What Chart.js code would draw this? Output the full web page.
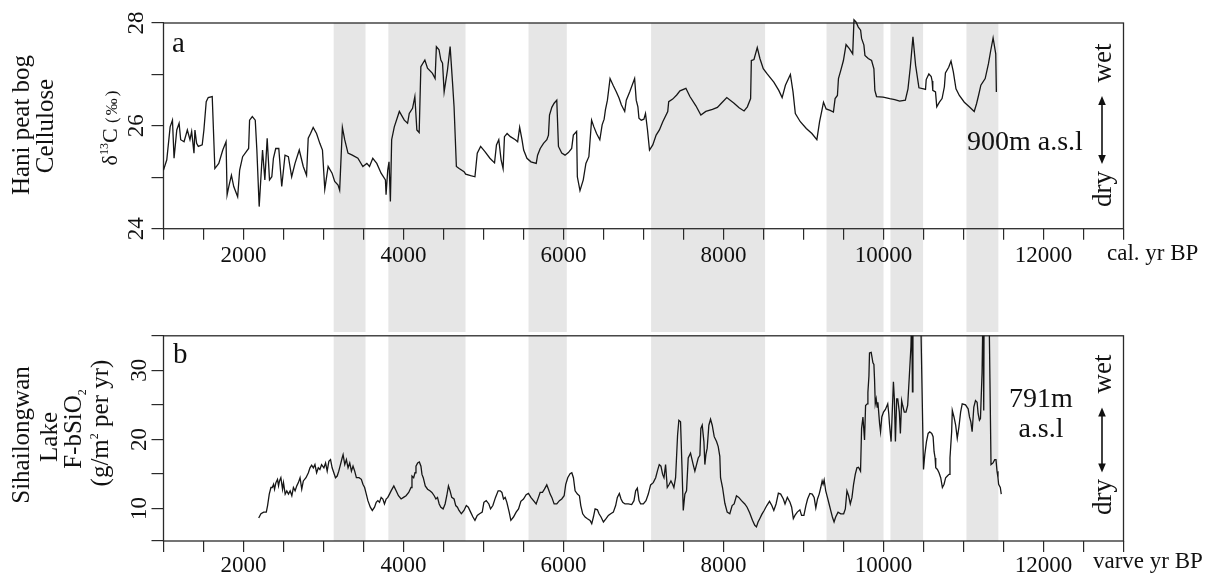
<!DOCTYPE html>
<html lang="en">
<head>
<meta charset="UTF-8">
<title>Hani peat bog δ13C / Sihailongwan Lake F-bSiO2</title>
<script src="https://cdn.jsdelivr.net/npm/chart.js"></script>
<style>
  html, body { margin: 0; padding: 0; background: #fff; }
  body { width: 1209px; height: 574px; position: relative; overflow: hidden;
         font-family: "Liberation Serif", "Times New Roman", serif; color: #111; }
  canvas { position: absolute; left: 0; }
  #chartA { top: 0; }
  #chartB { top: 322px; }
  .lbl { position: absolute; white-space: nowrap; line-height: 1; }
  .rot { position: absolute; white-space: nowrap; line-height: 27px;
         transform: translate(-50%, -50%) rotate(-90deg); }
  .up { position: relative; }
</style>
</head>
<body>
<canvas id="chartA" width="1209" height="332"></canvas>
<canvas id="chartB" width="1209" height="252"></canvas>

<!-- panel a texts -->
<div class="rot" style="left:19.6px;top:125px;font-size:25px">Hani peat bog</div>
<div class="rot" style="left:43.6px;top:126px;font-size:25px">Cellulose</div>
<div class="rot" style="left:110.6px;top:126.5px;font-size:22px">δ<span class="up" style="font-size:12px;top:-9px">13</span>C <span style="font-size:17px;letter-spacing:2px">(‰)</span></div>
<div class="lbl" style="left:172px;top:27.7px;font-size:29px">a</div>
<div class="lbl" style="left:967px;top:126.5px;font-size:28px">900m a.s.l</div>
<div class="rot" style="left:1102px;top:63px;font-size:27px">wet</div>
<div class="rot" style="left:1102px;top:188.5px;font-size:27px">dry</div>
<div class="lbl" style="left:1107px;top:240.7px;font-size:23px">cal. yr BP</div>

<!-- panel b texts -->
<div class="rot" style="left:19.6px;top:435px;font-size:25px">Sihailongwan</div>
<div class="rot" style="left:47.6px;top:436.5px;font-size:25px">Lake</div>
<div class="rot" style="left:74.6px;top:429px;font-size:25px">F-bSiO<span class="up" style="font-size:12px;top:5px">2</span></div>
<div class="rot" style="left:101.6px;top:422.5px;font-size:25px">(g/m<span class="up" style="font-size:12px;top:-10px">2</span> per yr)</div>
<div class="lbl" style="left:173px;top:338.7px;font-size:29px">b</div>
<div class="lbl" style="left:1041px;top:382.5px;font-size:28px;line-height:30px;text-align:center;transform:translateX(-50%)">791m<br>a.s.l</div>
<div class="rot" style="left:1102px;top:373.5px;font-size:27px">wet</div>
<div class="rot" style="left:1102px;top:496.5px;font-size:27px">dry</div>
<div class="lbl" style="left:1093px;top:548.7px;font-size:23px">varve yr BP</div>

<svg width="1209" height="574" style="position:absolute;left:0;top:0">
  <g stroke="#111" stroke-width="1.6" fill="#111">
    <line x1="1102" y1="103" x2="1102" y2="157"/>
    <path d="M1102 96 L1098.2 105 L1105.8 105 Z" stroke="none"/>
    <path d="M1102 164 L1098.2 155 L1105.8 155 Z" stroke="none"/>
    <line x1="1102" y1="414" x2="1102" y2="466"/>
    <path d="M1102 407.5 L1098.2 416.5 L1105.8 416.5 Z" stroke="none"/>
    <path d="M1102 472.5 L1098.2 463.5 L1105.8 463.5 Z" stroke="none"/>
  </g>
</svg>

<script>
// ---- data ----
// Hani peat bog cellulose d13C (cal. yr BP, permil)
const haniAge = [1000,1041,1083,1112,1132,1166,1195,1215,1257,1298,1331,1352,1381,1393,1414,1435,1484,1505,1534,1559,
  1609,1642,1691,1741,1782,1795,1816,1849,1878,1927,1952,1989,2035,2064,2076,2110,2147,2167,2196,2238,
  2267,2296,2325,2354,2374,2403,2441,2478,2519,2561,2602,2644,2697,2747,2788,2809,2838,2871,2913,2954,
  2987,3016,3058,3107,3140,3182,3202,3236,3265,3306,3360,3430,3492,3542,3575,3616,3666,3720,3774,3782,
  3803,3819,3836,3852,3885,3948,4010,4051,4072,4113,4142,4167,4196,4217,4267,4300,4362,4395,4411,4444,
  4467,4488,4508,4550,4583,4612,4632,4661,4695,4757,4777,4839,4893,4922,4964,5018,5080,5138,5162,5191,
  5220,5245,5262,5295,5336,5398,5427,5452,5481,5502,5543,5593,5659,5676,5709,5750,5792,5812,5825,5854,
  5883,5916,5937,5978,6019,6061,6102,6123,6164,6173,6206,6247,6280,6317,6351,6380,6413,6454,6483,6508,
  6524,6549,6582,6620,6661,6694,6723,6765,6785,6827,6889,6909,6930,6943,6972,7005,7025,7050,7075,7116,
  7158,7199,7241,7303,7315,7365,7415,7456,7530,7580,7655,7717,7779,7862,7924,7967,8041,8132,8195,8257,
  8298,8339,8348,8381,8422,8455,8497,8546,8629,8691,8733,8774,8836,8869,8898,8960,9035,9105,9167,9201,
  9230,9250,9283,9333,9374,9395,9424,9437,9466,9499,9532,9573,9615,9631,9656,9685,9714,9726,9755,9768,
  9809,9851,9880,9892,9913,9995,10078,10140,10202,10273,10306,10335,10368,10401,10443,10501,10525,10534,10567,10596,
  10608,10616,10650,10666,10699,10732,10761,10774,10815,10844,10873,10906,10948,11010,11072,11134,11163,11188,11217,11271,
  11312,11341,11370,11403,11411];
const haniD13C = [25.14,25.34,25.98,26.11,25.37,25.92,26.05,25.73,25.69,25.92,25.73,25.89,25.47,25.92,25.66,25.60,25.63,25.92,26.47,26.55,
  26.57,25.17,25.27,25.53,25.69,24.66,24.82,25.04,24.82,24.62,25.14,25.40,25.50,25.56,26.11,26.18,26.11,25.53,24.43,25.53,
  24.95,25.76,24.95,25.01,25.37,25.56,25.56,24.82,25.43,25.40,25.01,25.27,25.53,25.21,25.04,25.76,25.85,25.97,25.85,25.66,
  25.53,24.77,25.21,25.08,24.92,24.85,24.75,25.97,25.73,25.47,25.43,25.37,25.21,25.27,25.21,25.37,25.27,25.08,24.95,24.66,
  25.14,25.30,24.53,25.73,25.98,26.28,26.11,26.05,26.24,26.34,26.57,25.92,25.87,27.15,27.28,27.12,27.02,26.92,27.54,27.48,
  27.28,27.22,26.66,27.09,27.54,26.86,26.37,25.21,25.17,25.11,25.06,25.03,25.01,25.47,25.60,25.50,25.37,25.28,25.63,25.73,
  25.34,25.17,25.79,25.85,25.79,25.73,25.69,25.97,25.73,25.53,25.37,25.30,25.27,25.43,25.56,25.66,25.73,25.82,26.21,26.36,
  26.44,26.50,25.60,25.47,25.43,25.48,25.56,25.82,25.89,25.01,24.74,24.95,25.27,25.40,26.11,25.98,25.85,25.73,26.02,26.13,
  26.31,26.50,26.92,26.79,26.66,26.54,26.41,26.28,26.50,26.66,26.92,26.50,26.37,26.15,26.11,26.13,26.24,25.92,25.53,25.63,
  25.82,25.92,26.08,26.28,26.47,26.52,26.60,26.68,26.73,26.57,26.39,26.21,26.28,26.32,26.36,26.43,26.55,26.44,26.35,26.29,
  26.37,26.53,27.27,27.29,27.52,27.31,27.11,27.01,26.85,26.69,26.55,26.79,27.00,26.66,26.24,26.08,25.95,25.85,25.73,26.08,
  26.30,26.46,26.33,26.30,26.27,26.53,26.59,26.92,27.08,27.27,27.58,27.50,27.40,28.06,28.02,27.92,27.86,27.70,27.57,27.37,
  27.31,27.27,27.11,26.69,26.57,26.56,26.53,26.51,26.48,26.50,26.72,27.14,27.73,27.18,26.74,26.72,26.71,26.90,27.01,26.96,
  26.87,26.69,26.66,26.37,26.46,26.53,26.76,27.03,27.14,27.26,27.05,26.72,26.59,26.46,26.37,26.28,26.43,26.59,26.79,26.92,
  27.21,27.47,27.71,27.40,26.66];

// Sihailongwan Lake biogenic silica flux (varve yr BP, g/m2 per yr)
const sihaiAge = [2190,2218,2252,2285,2301,2322,2343,2359,2376,2388,2405,2425,2438,2450,2467,2488,2500,2521,2541,2562,
  2583,2604,2624,2645,2666,2686,2707,2728,2748,2781,2811,2831,2852,2873,2893,2914,2935,2955,2976,3005,
  3026,3046,3067,3088,3108,3129,3150,3171,3191,3212,3233,3245,3266,3286,3307,3328,3349,3369,3390,3411,
  3444,3473,3493,3514,3535,3555,3585,3610,3638,3659,3679,3700,3721,3742,3762,3783,3804,3825,3845,3879,
  3908,3937,3970,4000,4032,4065,4094,4106,4127,4144,4156,4177,4198,4218,4231,4247,4272,4301,4330,4355,
  4384,4405,4425,4446,4467,4495,4520,4541,4562,4582,4603,4632,4653,4674,4694,4723,4756,4785,4810,4839,
  4868,4893,4922,4951,4984,5005,5034,5067,5088,5117,5150,5183,5209,5230,5250,5271,5292,5321,5342,5375,
  5408,5438,5467,5500,5533,5562,5592,5625,5658,5687,5708,5737,5762,5791,5812,5833,5854,5883,5916,5949,
  5978,6008,6028,6053,6082,6104,6124,6145,6174,6199,6216,6240,6270,6299,6332,6353,6374,6395,6424,6444,
  6469,6499,6532,6561,6590,6623,6652,6673,6698,6719,6740,6769,6810,6852,6881,6902,6923,6944,6964,6998,
  7031,7060,7089,7122,7152,7176,7197,7218,7239,7256,7276,7297,7322,7343,7364,7380,7401,7426,7442,7463,
  7480,7497,7517,7538,7559,7588,7621,7642,7663,7684,7705,7717,7734,7755,7767,7780,7796,7817,7838,7859,
  7884,7913,7934,7954,7963,7988,8017,8046,8079,8108,8133,8162,8191,8225,8266,8295,8328,8362,8391,8412,
  8432,8453,8479,8508,8541,8575,8604,8629,8657,8686,8715,8748,8769,8798,8831,8852,8873,8893,8922,8955,
  8976,9005,9030,9051,9080,9109,9133,9154,9175,9196,9216,9233,9245,9258,9278,9299,9320,9340,9361,9382,
  9402,9432,9465,9502,9523,9543,9564,9585,9606,9626,9647,9668,9688,9713,9726,9743,9763,9776,9797,9805,
  9818,9825,9846,9868,9880,9888,9897,9909,9921,9930,9951,9963,9979,10000,10024,10053,10066,10074,10095,10107,
  10124,10136,10149,10165,10178,10198,10211,10227,10240,10260,10281,10302,10323,10343,10352,10362,10368,10462,10500,10516,
  10537,10558,10578,10603,10620,10632,10645,10653,10674,10694,10715,10736,10757,10777,10798,10819,10831,10840,10852,10860,
  10881,10902,10922,10943,10964,10984,11025,11058,11075,11092,11108,11129,11150,11170,11183,11199,11212,11232,11245,11253,
  11258,11318,11344,11369,11390,11406,11419,11431,11439,11460,11472];
const sihaiFlux = [8.62,9.24,9.48,9.48,10.43,12.09,13.04,13.04,13.51,12.80,13.75,14.23,13.28,13.99,14.46,12.80,13.75,12.09,12.56,12.09,
  12.56,11.85,13.04,12.56,13.28,13.75,14.46,12.80,13.99,14.46,15.18,15.89,16.27,15.89,16.36,15.18,15.89,15.65,16.36,15.89,
  16.60,15.41,16.84,17.08,15.89,15.18,14.46,14.70,15.41,16.36,17.31,17.79,16.36,17.08,15.89,16.60,15.41,16.13,15.41,14.46,
  14.46,14.23,13.51,13.04,12.09,11.14,10.19,9.72,10.19,10.90,11.14,10.90,11.61,11.38,10.66,11.38,11.61,12.09,12.56,13.28,
  12.56,11.85,11.38,11.61,11.85,12.33,13.04,14.70,14.46,15.18,16.13,16.60,16.74,16.13,14.94,14.46,13.28,12.80,12.56,12.33,
  11.85,11.38,11.61,10.66,10.19,9.95,10.66,11.85,13.28,12.56,11.61,11.38,10.43,10.19,9.72,9.24,9.72,10.43,10.19,9.48,
  8.77,8.29,9.00,9.24,9.48,10.90,11.14,10.66,9.95,10.43,11.61,12.56,12.56,12.33,11.38,11.61,10.90,9.48,8.29,8.77,
  9.48,9.95,11.04,11.38,11.99,12.18,11.61,11.14,10.66,11.61,12.33,12.33,12.80,13.42,12.80,12.09,11.61,10.66,10.66,11.14,
  11.38,11.85,13.51,14.46,15.03,15.18,14.46,12.56,12.09,11.85,10.43,9.24,8.77,8.53,8.29,7.82,8.77,9.95,9.81,9.24,
  8.77,8.05,8.53,9.00,9.24,9.48,10.43,11.61,12.18,11.38,10.90,10.66,10.66,10.57,11.14,12.56,12.94,11.14,10.66,10.66,
  11.14,12.09,13.42,13.75,14.46,15.51,16.36,16.13,14.94,14.46,16.36,13.04,13.51,13.99,13.51,13.04,14.46,20.64,22.77,22.54,
  16.36,9.72,12.09,12.56,17.31,18.02,16.36,15.41,16.36,17.31,17.69,21.59,22.06,19.69,16.36,17.79,18.74,22.06,22.92,22.06,
  20.40,19.69,18.97,17.55,14.46,13.04,10.76,9.48,9.24,10.43,10.66,11.85,11.61,11.14,10.66,10.19,9.34,8.29,7.58,7.34,
  8.05,8.53,9.15,9.72,10.43,11.04,10.43,9.72,10.66,12.23,12.09,11.38,10.66,11.61,10.90,10.19,8.53,9.00,9.48,9.81,
  9.00,9.00,10.43,11.38,12.18,12.09,11.61,10.09,11.38,12.09,13.04,13.99,13.51,14.13,12.56,11.61,10.66,9.72,8.77,8.05,
  8.77,9.48,9.24,9.24,9.95,12.56,11.85,10.66,11.61,13.51,14.94,15.89,15.98,15.41,21.59,23.25,19.92,24.91,25.15,26.81,
  29.18,32.51,32.60,31.08,30.85,28.71,25.15,25.86,24.67,25.38,22.30,21.11,23.25,23.96,24.34,25.15,23.72,22.30,19.69,23.25,
  28.33,25.86,19.69,25.86,25.86,23.96,20.87,25.62,24.91,23.96,23.96,24.91,29.18,33.46,38.0,26.9,40.0,40.0,15.65,17.79,
  19.69,20.87,21.11,20.87,20.40,18.26,17.31,15.89,15.65,15.18,14.46,13.04,13.51,14.46,14.70,14.94,17.31,18.97,21.11,24.20,
  23.25,22.06,20.16,21.82,23.96,25.15,25.00,24.43,23.25,22.54,21.11,24.67,25.62,25.38,23.72,22.77,23.01,29.66,40.0,24.2,
  40.0,40.0,16.36,16.60,17.08,17.08,15.41,14.46,13.51,13.04,12.09];

// grey intervals (yr BP)
const bandStart = [3127, 3811, 5563, 7095, 9288, 10087, 11037];
const bandEnd   = [3525, 4775, 6041, 8520, 10000, 10495, 11436];

// axes
const xTicks  = [1000,1500,2000,2500,3000,3500,4000,4500,5000,5500,6000,6500,7000,7500,8000,8500,9000,9500,10000,10500,11000,11500,12000,12500,13000];
const xLabels = [2000, 4000, 6000, 8000, 10000, 12000];
const yTicksA  = [24, 24.5, 25, 25.5, 26, 26.5, 27, 27.5, 28];
const yLabelsA = [24, 26, 28];
const yTicksB  = [5.3, 10, 15, 20, 25, 30, 35];
const yLabelsB = [10, 20, 30];

Chart.defaults.font.family = "'Liberation Serif', 'Times New Roman', serif";
Chart.defaults.color = '#111';

function pts(xs, ys) { return xs.map((x, i) => ({ x: x, y: ys[i] })); }

// grey bands behind everything; panel a carries them down to panel b
const bandsPlugin = {
  id: 'bands',
  beforeDraw(chart, args, opts) {
    const { ctx, chartArea: a, scales: { x } } = chart;
    const bottom = opts.toEdge ? chart.height : a.bottom;
    ctx.save();
    ctx.fillStyle = '#e6e6e6';
    bandStart.forEach((s, i) => {
      const x0 = x.getPixelForValue(s);
      const x1 = x.getPixelForValue(bandEnd[i]);
      ctx.fillRect(x0, a.top, x1 - x0, bottom - a.top);
    });
    ctx.restore();
  }
};

const framePlugin = {
  id: 'frame',
  beforeDatasetsDraw(chart) {
    const { ctx, chartArea: a } = chart;
    ctx.save();
    ctx.strokeStyle = '#2a2a2a';
    ctx.lineWidth = 1.3;
    ctx.strokeRect(a.left, a.top, a.right - a.left, a.bottom - a.top);
    ctx.restore();
  }
};

function panel(id, c) {
  return new Chart(document.getElementById(id), {
    type: 'line',
    data: {
      datasets: [{
        data: pts(c.ages, c.vals),
        borderColor: '#161616',
        borderWidth: 1.3,
        pointRadius: 0,
        tension: 0,
        clip: c.clip
      }]
    },
    options: {
      responsive: false,
      animation: false,
      devicePixelRatio: 1,
      layout: { padding: { left: 0, top: c.padTop, right: 85.5, bottom: 0 } },
      plugins: {
        legend: { display: false },
        tooltip: { enabled: false },
        bands: { toEdge: c.toEdge }
      },
      scales: {
        x: {
          type: 'linear', min: 1000, max: 13000,
          afterBuildTicks: s => { s.ticks = xTicks.map(v => ({ value: v })); },
          afterFit: s => { s.height = c.xHeight; },
          border: { display: false },
          grid: { drawOnChartArea: false, tickLength: 11, color: '#2a2a2a', lineWidth: 1.2 },
          ticks: {
            autoSkip: false, maxRotation: 0, padding: c.xPad,
            font: { size: 23 },
            callback: v => xLabels.includes(v) ? String(v) : ''
          }
        },
        y: {
          type: 'linear', min: c.yTicks[0], max: c.yTicks[c.yTicks.length - 1],
          afterBuildTicks: s => { s.ticks = c.yTicks.map(v => ({ value: v })); },
          afterFit: s => { s.width = 163.5; },
          border: { display: false },
          grid: { drawOnChartArea: false, tickLength: 12, color: '#2a2a2a', lineWidth: 1.2 },
          ticks: {
            minRotation: 90, maxRotation: 90, crossAlign: 'center', padding: c.yPad,
            font: { size: 23 },
            callback: v => c.yLabels.includes(v) ? String(v) : ''
          }
        }
      }
    },
    plugins: [bandsPlugin, framePlugin]
  });
}

panel('chartA', {
  ages: haniAge, vals: haniD13C,
  yTicks: yTicksA, yLabels: yLabelsA,
  padTop: 23, xHeight: 103.3, xPad: 2, yPad: 3.5,
  toEdge: true,
  clip: { left: 1, top: false, right: 1, bottom: 1 }
});

panel('chartB', {
  ages: sihaiAge, vals: sihaiFlux,
  yTicks: yTicksB, yLabels: yLabelsB,
  padTop: 10.3, xHeight: 33, xPad: 0, yPad: 0,
  toEdge: false,
  clip: 0
});
</script>
</body>
</html>
